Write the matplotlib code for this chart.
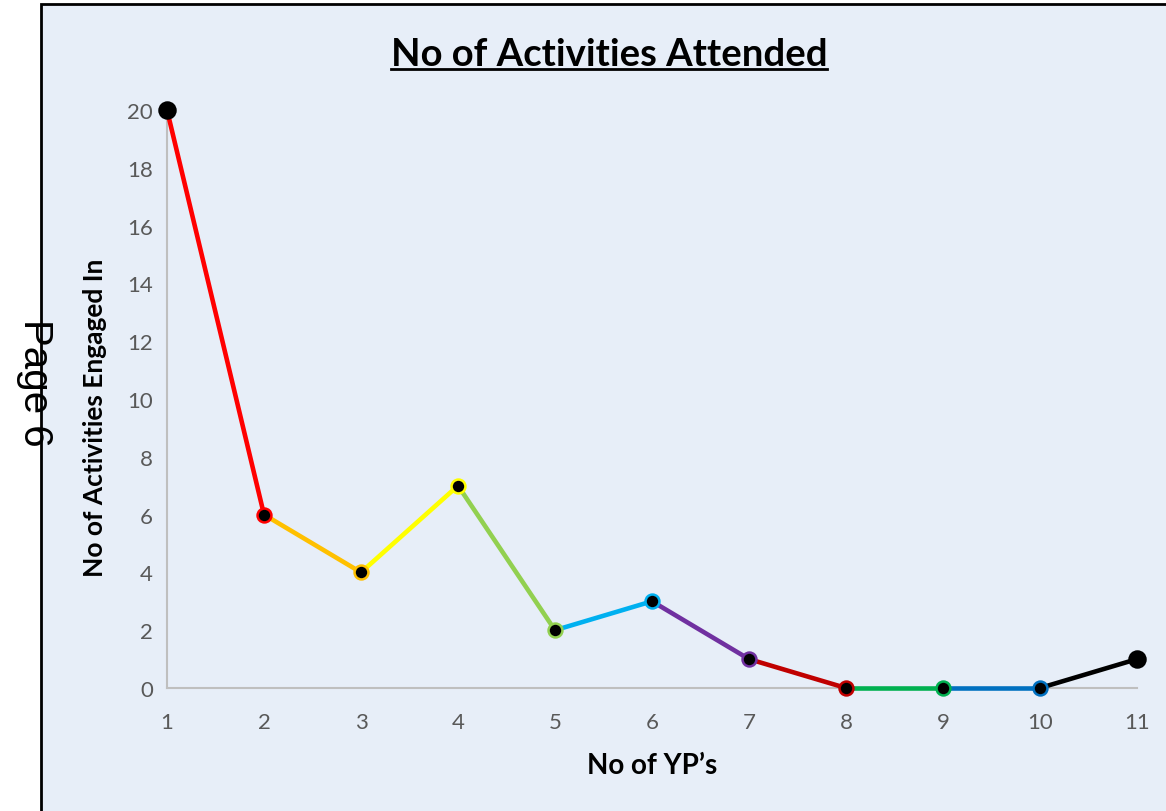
import matplotlib.pyplot as plt
from matplotlib.patches import Rectangle
from matplotlib.lines import Line2D

# data
yps = [1, 2, 3, 4, 5, 6, 7, 8, 9, 10, 11]
activities = [20, 6, 4, 7, 2, 3, 1, 0, 0, 0, 1]
seg_colors = ["#FF0000", "#FFC000", "#FFFF00", "#92D050", "#00B0F0",
              "#7030A0", "#C00000", "#00B050", "#0070C0", "#000000"]
edge_colors = ["#000000"] + seg_colors

plt.rcParams['font.family'] = ['Lato', 'DejaVu Sans']

fig = plt.figure(figsize=(11.66, 8.12), dpi=100)
fig.patch.set_facecolor("white")

# page-like panel with border
panel = Rectangle((41 / 1166, -0.1), 1.2, 1 - 5 / 812 + 0.1, transform=fig.transFigure,
                  facecolor="#E7EEF8", edgecolor="black", linewidth=2, zorder=-10)
fig.add_artist(panel)

ax = fig.add_axes([167 / 1166, 1 - 689 / 812, (1137 - 167) / 1166, (689 - 111) / 812])
ax.set_facecolor("none")

for i in range(len(yps) - 1):
    ax.plot(yps[i:i + 2], activities[i:i + 2], color=seg_colors[i], linewidth=3.3,
            solid_capstyle="round", clip_on=False, zorder=3)

for i, (x, y) in enumerate(zip(yps, activities)):
    big = i in (0, len(yps) - 1)
    ax.plot(x, y, marker="o", markersize=11.5 if big else 10, markerfacecolor="black",
            markeredgecolor=edge_colors[i], markeredgewidth=1.8, clip_on=False, zorder=4)

ax.set_xlim(1, 11)
ax.set_ylim(0, 20)
ax.set_xticks(yps)
ax.set_yticks(range(0, 21, 2))
for s in ["top", "right"]:
    ax.spines[s].set_visible(False)
for s in ["left", "bottom"]:
    ax.spines[s].set_color("#BFBFBF")
    ax.spines[s].set_linewidth(1.5)
    ax.spines[s].set_zorder(1)
ax.tick_params(length=0, labelsize=16, labelcolor="#595959")
ax.tick_params(axis="x", pad=17)
ax.tick_params(axis="y", pad=10)

ax.set_xlabel("No of YP\u2019s", fontsize=20, fontweight="bold")
ax.xaxis.label.set_va("center")
ax.xaxis.set_label_coords(0.5, -0.133)
ax.set_ylabel("No of Activities Engaged In", fontsize=19, fontweight="bold")
ax.yaxis.label.set_va("center")
ax.yaxis.set_label_coords(-0.074, 0.469)

title = fig.text(609 / 1166, 1 - 55 / 812, "No of Activities Attended", fontsize=27.5,
                 fontweight="bold", ha="center", va="center")
fig.text(35 / 1166, 1 - 383 / 812, "Page 6", fontsize=29, rotation=-90,
         ha="center", va="center", family="Liberation Sans")

fig.canvas.draw()
bb = title.get_window_extent().transformed(fig.transFigure.inverted())
fig.add_artist(Line2D([bb.x0, bb.x1], [bb.y0 + 0.002, bb.y0 + 0.002],
                      transform=fig.transFigure, color="black", linewidth=2))

fig.savefig("out.png", dpi=100)
